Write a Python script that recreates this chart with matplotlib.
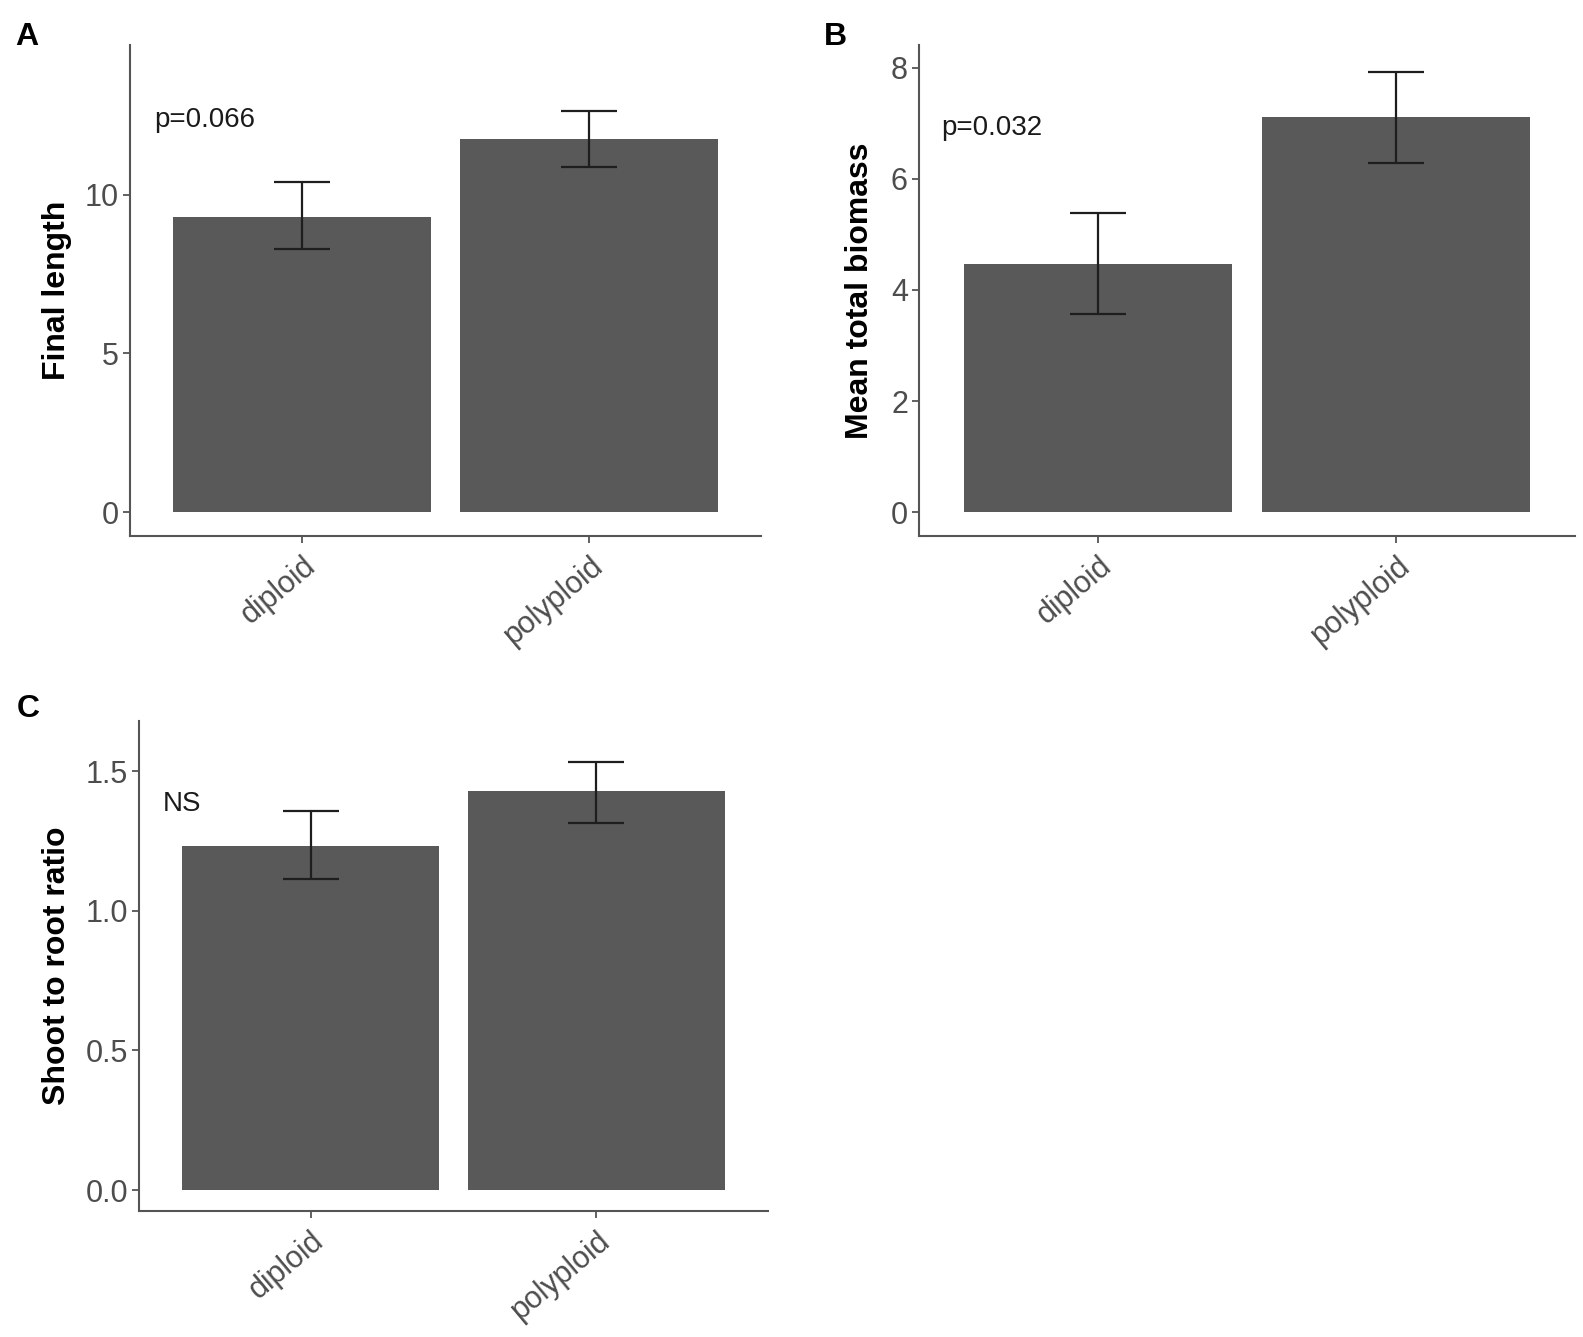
import matplotlib
matplotlib.use("Agg")
import matplotlib.pyplot as plt
import numpy as np

plt.rcParams['font.family'] = ['Liberation Sans', 'DejaVu Sans']

categories = ["diploid", "polyploid"]

# Panel A: Final length
length_mean = [9.31, 11.75]
length_upper = [10.41, 12.65]
length_lower = [8.30, 10.87]

# Panel B: Mean total biomass
biomass_mean = [4.47, 7.11]
biomass_upper = [5.39, 7.93]
biomass_lower = [3.56, 6.29]

# Panel C: Shoot to root ratio
ratio_mean = [1.232, 1.429]
ratio_upper = [1.357, 1.532]
ratio_lower = [1.114, 1.314]

W, H = 1583, 1337
fig = plt.figure(figsize=(W / 100, H / 100), dpi=100)

def px_axes(left, right, top, bottom):
    return fig.add_axes([left / W, 1 - bottom / H, (right - left) / W, (bottom - top) / H])

AXC = "#555555"
TXC = "#4d4d4d"

def draw_panel(ax, means, upper, lower, ylim, yticks, ylabel, fmt, note, note_xy,
               label_x_px, ax_left_px, ax_w_px):
    x = np.arange(1, len(categories) + 1)
    ax.bar(x, means, width=0.9, color="#595959", zorder=2)
    means = np.array(means)
    yerr = np.vstack([means - np.array(lower), np.array(upper) - means])
    ax.errorbar(x, means, yerr=yerr, fmt="none", ecolor="#1e1e1e",
                elinewidth=1.6, capsize=20, capthick=1.6, zorder=3)
    ax.set_xlim(0.4, 2.6)
    ax.set_ylim(*ylim)
    ax.set_xticks(x)
    ax.set_xticklabels(categories)
    ax.set_yticks(yticks)
    ax.set_yticklabels([fmt.format(v) for v in yticks])
    for s in ["top", "right"]:
        ax.spines[s].set_visible(False)
    for s in ["left", "bottom"]:
        ax.spines[s].set_color(AXC)
        ax.spines[s].set_linewidth(1.5)
    ax.tick_params(axis="both", colors=AXC, width=1.3, length=5,
                   labelcolor=TXC, labelsize=22)
    ax.tick_params(axis="y", pad=3)
    ax.tick_params(axis="x", pad=6)
    for lab in ax.get_xticklabels():
        lab.set_rotation(40)
        lab.set_ha("right")
        lab.set_va("top")
        lab.set_rotation_mode("anchor")
    ax.set_ylabel(ylabel, fontsize=23, fontweight="bold", color="black")
    ax.yaxis.label.set_va("center")
    ax.yaxis.set_label_coords((label_x_px - ax_left_px) / ax_w_px, 0.5)
    ax.text(note_xy[0], note_xy[1], note, fontsize=20, color="#1a1a1a",
            ha="center", va="center")

axA = px_axes(130, 761, 45, 536)
draw_panel(axA, length_mean, length_upper, length_lower, (-0.757, 14.73),
           [0, 5, 10], "Final length", "{:g}", "p=0.066", (0.66, 12.37),
           57, 130, 631)

axB = px_axes(919, 1575, 45, 536)
draw_panel(axB, biomass_mean, biomass_upper, biomass_lower, (-0.43, 8.41),
           [0, 2, 4, 6, 8], "Mean total biomass", "{:g}", "p=0.032", (0.645, 6.92),
           860, 919, 656)

axC = px_axes(139, 768, 721, 1211)
draw_panel(axC, ratio_mean, ratio_upper, ratio_lower, (-0.075, 1.679),
           [0.0, 0.5, 1.0, 1.5], "Shoot to root ratio", "{:.1f}", "NS", (0.55, 1.382),
           57, 139, 629)

for t, xp, yp in [("A", 15, 45), ("B", 824, 45), ("C", 17, 717)]:
    fig.text(xp / W, 1 - yp / H, t, fontsize=23, fontweight="bold",
             ha="left", va="baseline", color="black")

fig.savefig("out.png", dpi=100, facecolor="white")
